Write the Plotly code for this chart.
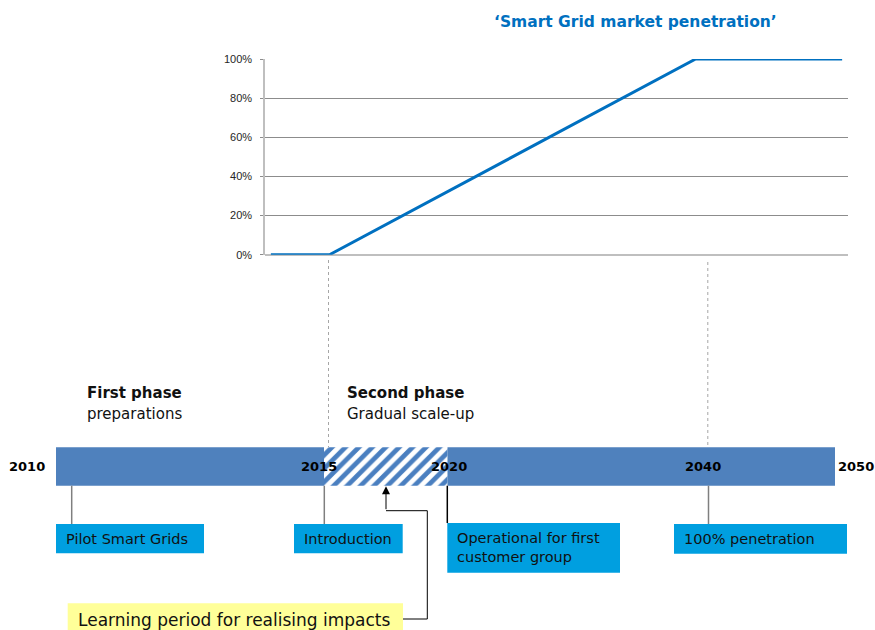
import plotly.graph_objects as go

# ---------------- data ----------------
line_years = [2011, 2015, 2040, 2050]
penetration = [0, 0, 100, 100]
y_ticks = [0, 20, 40, 60, 80, 100]
y_tick_labels = ["0%", "20%", "40%", "60%", "80%", "100%"]

timeline_years = [2010, 2015, 2020, 2040, 2050]
segment_starts = [2010, 2015, 2020]
segment_ends = [2015, 2020, 2050]
segment_hatched = [False, True, False]

phase_titles = ["First phase", "Second phase"]
phase_subtitles = ["preparations", "Gradual scale-up"]

milestones = ["Pilot Smart Grids", "Introduction",
              "Operational for first<br>customer group", "100% penetration"]
milestone_years = [2010, 2015, 2020, 2040]
note_text = "Learning period for realising impacts"
title_text = "\u2018Smart Grid market penetration\u2019"

# ---------------- layout constants (schematic, in pixels) ----------------
W, H = 875, 630
TL_X = {2010: 56, 2015: 324, 2020: 447.5, 2040: 708, 2050: 835}
BAR_TOP, BAR_BOT = 447.3, 485.7
BAR_COLOR = "#4f81bd"
BOX_COLOR = "#009fe0"
ms_conn_x = [71.7, 324.3, 447.3, 708.5]
ms_conn_color = ["#7f7f7f", "#7f7f7f", "#000000", "#7f7f7f"]
ms_box = [(56, 204, 524, 553.3), (294, 402.7, 524, 553.3),
          (447.3, 620, 523, 572.7), (674, 847, 524, 553.7)]
year_lbl_x = {2010: 27, 2015: 319, 2020: 449, 2040: 703, 2050: 856}
phase_x = [87, 347]

fig = go.Figure()

# ---- top line chart ----
fig.add_trace(go.Scatter(x=line_years, y=penetration, mode="lines",
                         line=dict(color="#0070c0", width=3),
                         xaxis="x", yaxis="y", showlegend=False,
                         hoverinfo="skip"))

# ---- timeline bars ----
ymid = (BAR_TOP + BAR_BOT) / 2
for s, e, hatched in zip(segment_starts, segment_ends, segment_hatched):
    x0, x1 = TL_X[s], TL_X[e]
    if hatched:
        marker = dict(color="white", line=dict(width=0),
                      pattern=dict(shape="/", fgcolor="#4a7fc0", bgcolor="white",
                                   fgopacity=1, size=9.5, solidity=0.5))
    else:
        marker = dict(color=BAR_COLOR, line=dict(width=0))
    fig.add_trace(go.Bar(y=[ymid], x=[x1 - x0], base=[x0], orientation="h",
                         width=BAR_BOT - BAR_TOP, marker=marker,
                         xaxis="x2", yaxis="y2", showlegend=False,
                         hoverinfo="skip"))

shapes = []
annotations = []


def note(x, y, text, size, color="#111111", bold=False, xanchor="left"):
    annotations.append(dict(xref="x2", yref="y2", x=x, y=y, text=text,
                            showarrow=False, xanchor=xanchor, yanchor="middle",
                            align="left", borderpad=0, borderwidth=0,
                            font=dict(family="DejaVu Sans", size=size, color=color,
                                      weight="bold" if bold else "normal")))


# dotted guide lines
for xg, ytop in [(328.5, 260), (707.8, 262)]:
    shapes.append(dict(type="line", xref="x2", yref="y2", x0=xg, x1=xg,
                       y0=ytop, y1=BAR_TOP, line=dict(color="#a6a6a6", width=1, dash="dot")))

# milestone connectors and boxes
for i, name in enumerate(milestones):
    cx = ms_conn_x[i]
    bx0, bx1, by0, by1 = ms_box[i]
    shapes.append(dict(type="line", xref="x2", yref="y2", x0=cx, x1=cx,
                       y0=BAR_BOT, y1=by0,
                       line=dict(color=ms_conn_color[i], width=1.5)))
    shapes.append(dict(type="rect", xref="x2", yref="y2", x0=bx0, x1=bx1,
                       y0=by0, y1=by1, fillcolor=BOX_COLOR, line=dict(width=0),
                       layer="below"))
    note(bx0 + 10, (by0 + by1) / 2, name, 14.5)

# yellow note box and connector
shapes.append(dict(type="rect", xref="x2", yref="y2", x0=67.7, x1=403,
                   y0=603.3, y1=640, fillcolor="#ffff99", line=dict(width=0),
                   layer="below"))
note(78, 620, note_text, 17)
shapes.append(dict(type="path", xref="x2", yref="y2",
                   path="M 403 619 L 427.3 619 L 427.3 510.7 L 386 510.7",
                   line=dict(color="#000000", width=1)))
annotations.append(dict(xref="x2", yref="y2", axref="x2", ayref="y2",
                        x=386, y=BAR_BOT + 0.5, ax=386, ay=510.7, text="",
                        showarrow=True, arrowhead=2, arrowsize=1.6, arrowwidth=1,
                        arrowcolor="#000000"))

# year labels
for yr in timeline_years:
    note(year_lbl_x[yr], 466, str(yr), 13, color="#000000", bold=True,
         xanchor="center")

# phase labels
for px, t, st in zip(phase_x, phase_titles, phase_subtitles):
    note(px, 393, t, 15, bold=True)
    note(px, 414, st, 15)

# title
note(635, 22, title_text, 15.5, color="#0070c0", bold=True, xanchor="center")

fig.update_layout(
    width=W, height=H,
    margin=dict(l=0, r=0, t=0, b=0, pad=0, autoexpand=False),
    paper_bgcolor="white", plot_bgcolor="rgba(0,0,0,0)",
    barmode="overlay", showlegend=False,
    xaxis=dict(domain=[265 / W, 848 / W], range=[2010.6, 2050.4],
               showgrid=False, zeroline=False, showticklabels=False, ticks="",
               showline=False, anchor="y", fixedrange=True, automargin=False),
    yaxis=dict(domain=[(H - 254.7) / H, (H - 59) / H], range=[0, 100],
               tickvals=y_ticks, ticktext=y_tick_labels,
               showgrid=True, gridcolor="#8c8c8c", gridwidth=1,
               zeroline=True, zerolinecolor="#bfbfbf", zerolinewidth=1.5,
               showline=True, linecolor="#bfbfbf", linewidth=1.5,
               ticks="outside", ticklen=3, tickcolor="#8c8c8c",
               ticklabelstandoff=6, automargin=False,
               tickfont=dict(family="Liberation Sans", size=11, color="#262626"),
               anchor="x", fixedrange=True),
    xaxis2=dict(domain=[0, 1], range=[0, W], visible=False, anchor="y2",
                fixedrange=True, automargin=False),
    yaxis2=dict(domain=[0, 1], range=[H, 0], visible=False, anchor="x2",
                fixedrange=True, automargin=False),
    shapes=shapes, annotations=annotations,
)

fig.write_html("out.html", post_script="document.body.style.margin='0';",
               config={"displayModeBar": False})
